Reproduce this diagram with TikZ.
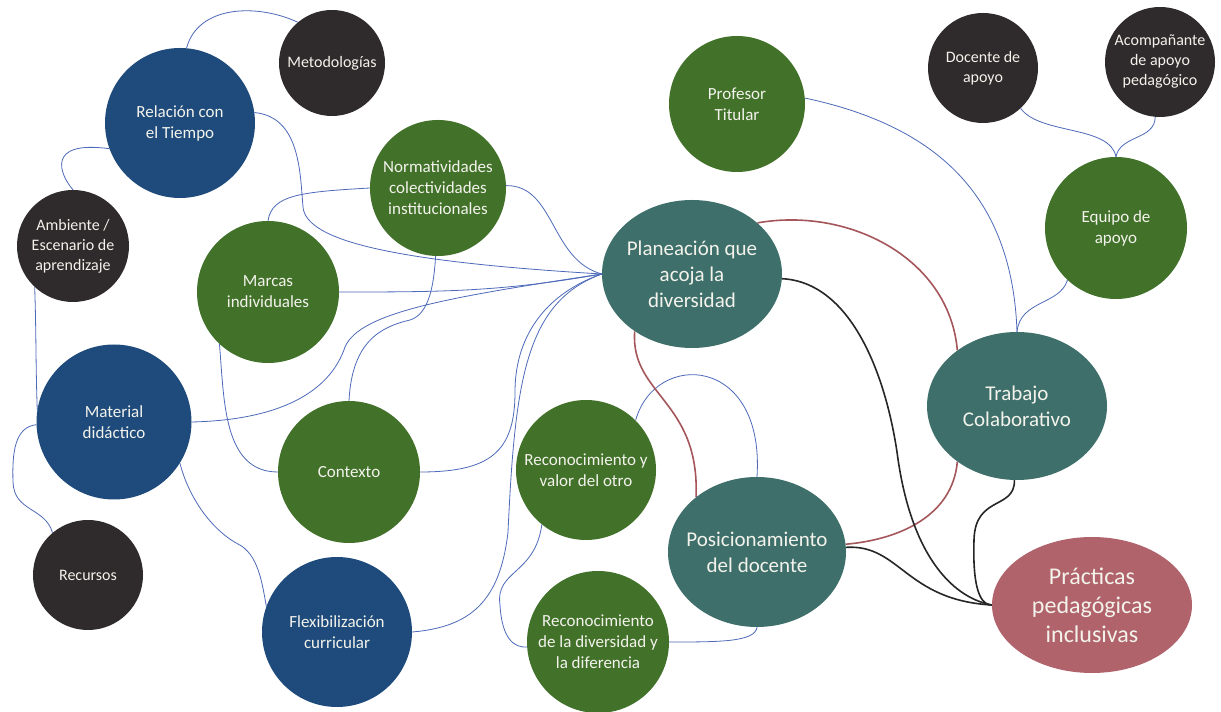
\documentclass[tikz,border=0pt]{standalone}
\usepackage{fontspec}
\setmainfont{Carlito}
\usepackage{tikz}
\usetikzlibrary{shapes,backgrounds}

\definecolor{darkc}{HTML}{2F2A2B}
\definecolor{bluec}{HTML}{1E4B7B}
\definecolor{greenc}{HTML}{42712A}
\definecolor{tealc}{HTML}{3E6F6A}
\definecolor{rosec}{HTML}{B0636A}
\definecolor{linkc}{HTML}{4D69B9}
\definecolor{redlinkc}{HTML}{A5565B}
\definecolor{textc}{HTML}{F3F3EC}

\begin{document}
\begin{tikzpicture}[x=1pt,y=1pt]

\tikzset{bubble/.style={circle, inner sep=-4pt, align=center, text=textc, font=\fontsize{17}{21}\selectfont},
darkb/.style={bubble, fill=darkc, font=\fontsize{16}{20}\selectfont},
blueb/.style={bubble, fill=bluec},
greenb/.style={bubble, fill=greenc},
%the four big ones are ellipses
bigb/.style={ellipse, inner sep=-8pt, align=center, text=textc, fill=tealc, minimum width=180pt, minimum height=148pt, font=\fontsize{21}{26}\selectfont},
link/.style={draw=linkc, line width=0.8pt},
redlink/.style={draw=redlinkc, line width=1.6pt},
blacklink/.style={draw=black!85, line width=1.6pt}}

\useasboundingbox (0,0) rectangle (1221,712);

\foreach \n/\x/\y/\s/\d/\t in {met/332/649/darkb/106/{Metodologías},
 rel/180/589/blueb/150/{Relación con\\el Tiempo},
 amb/73/466/darkb/112/{Ambiente /\\Escenario de\\aprendizaje},
 marc/268/420/greenb/142/{Marcas\\individuales},
 norm/438/524/greenb/136/{Normatividades\\colectividades\\institucionales},
 mat/114/290/blueb/155/{Material\\didáctico},
 rec/88/137/darkb/110/{Recursos},
 ctx/349/240/greenb/142/{Contexto},
 flex/337/80/blueb/150/{Flexibilización\\curricular},
 prof/737/608/greenb/136/{Profesor\\Titular},
 rval/586/242/greenb/140/{Reconocimiento y\\valor del otro},
 rdiv/598/70/greenb/142/{Reconocimiento\\de la diversidad y\\la diferencia},
 doc/983/644/darkb/110/{Docente de\\apoyo},
 acom/1160/650/darkb/110/{Acompañante\\de apoyo\\pedagógico},
 equi/1116/484/greenb/142/{Equipo de\\apoyo}}
  \node[\s, minimum size=\d pt] (\n) at (\x,\y) {\t};

\node[bigb] (plan) at (692,438) {Planeación que\\acoja la\\diversidad};
\node[bigb, minimum width=178pt, minimum height=150pt] (pos) at (757,160) {Posicionamiento\\del docente};
\node[bigb] (trab) at (1017,306) {Trabajo\\Colaborativo};
\node[bigb, fill=rosec, minimum width=200pt, minimum height=136pt, font=\fontsize{24}{29}\selectfont] (prac) at (1092,107) {Prácticas\\pedagógicas\\inclusivas};

\begin{scope}[on background layer]
\fill[white] (0,0) rectangle (1221,712);

%left side
\draw[link] (rel.85) to[out=75,in=155] (met.130);
\draw[link] (rel.200) .. controls (45,572) and (60,537) .. (amb.north);
\draw[link] (amb.227) to[out=-88,in=92] (mat.171);
\draw[link] (mat.182) .. controls (15,285) and (12,260) .. (13,230) .. controls (14,200) and (45,205) .. (rec.130);
\draw[link] (mat.-32) .. controls (190,210) and (215,180) .. (238,168) .. controls (258,158) and (262,130) .. (flex.160);
\draw[link] (norm.west) .. controls (300,520) and (272,517) .. (marc.north);
\draw[link] (marc.227) to[out=-85,in=180] (ctx.west);
\draw[link] (ctx.north) .. controls (352,370) and (380,385) .. (410,392) .. controls (430,398) and (434,430) .. (norm.268);

%everything that goes into the planeacion
\draw[link] (rel.8) .. controls (300,595) and (300,540) .. (303,505) .. controls (306,470) and (400,450) .. (plan.west);
\draw[link] (norm.2) .. controls (555,527) and (550,452) .. (plan.west);
\draw[link] (marc.east) to[out=0,in=190] (plan.west);
\draw[link] (mat.east) .. controls (280,292) and (330,320) .. (345,365) .. controls (360,400) and (450,415) .. (plan.west);
\draw[link] (ctx.east) .. controls (490,240) and (515,260) .. (515,320) .. controls (515,380) and (550,420) .. (plan.west);
\draw[link] (flex.east) .. controls (470,85) and (500,110) .. (508,180) .. controls (515,330) and (525,410) .. (plan.west);

%reconocimiento
\draw[link] (rval.45) .. controls (655,362) and (765,357) .. (pos.north);
\draw[link] (rval.231) .. controls (535,137) and (495,142) .. (500,107) .. controls (502,72) and (515,64) .. (rdiv.184);
\draw[link] (rdiv.east) .. controls (720,70) and (755,70) .. (pos.south);

%right side
\draw[link] (prof.5) to[out=-12,in=92,looseness=1.1] (trab.north);
\draw[link] (doc.-47) .. controls (1040,577) and (1110,587) .. (equi.north);
\draw[link] (acom.-95) .. controls (1155,572) and (1120,577) .. (equi.north);
\draw[link] (equi.227) .. controls (1060,407) and (1020,412) .. (trab.north);

\draw[redlink] (plan.38) to[out=10,in=95] (trab.137);
\draw[redlink] (trab.223) to[out=-95,in=5] (pos.5);
\draw[redlink] (plan.225) .. controls (630,317) and (700,312) .. (pos.138);

\draw[blacklink] (plan.-3) .. controls (850,430) and (885,340) .. (897,260) .. controls (910,160) and (950,115) .. (prac.west);
\draw[blacklink] (pos.3) .. controls (900,168) and (905,112) .. (prac.west);
\draw[blacklink] (trab.-92) .. controls (1015,202) and (975,217) .. (974,172) .. controls (972,112) and (985,107) .. (prac.west);
\end{scope}

\end{tikzpicture}
\end{document}
